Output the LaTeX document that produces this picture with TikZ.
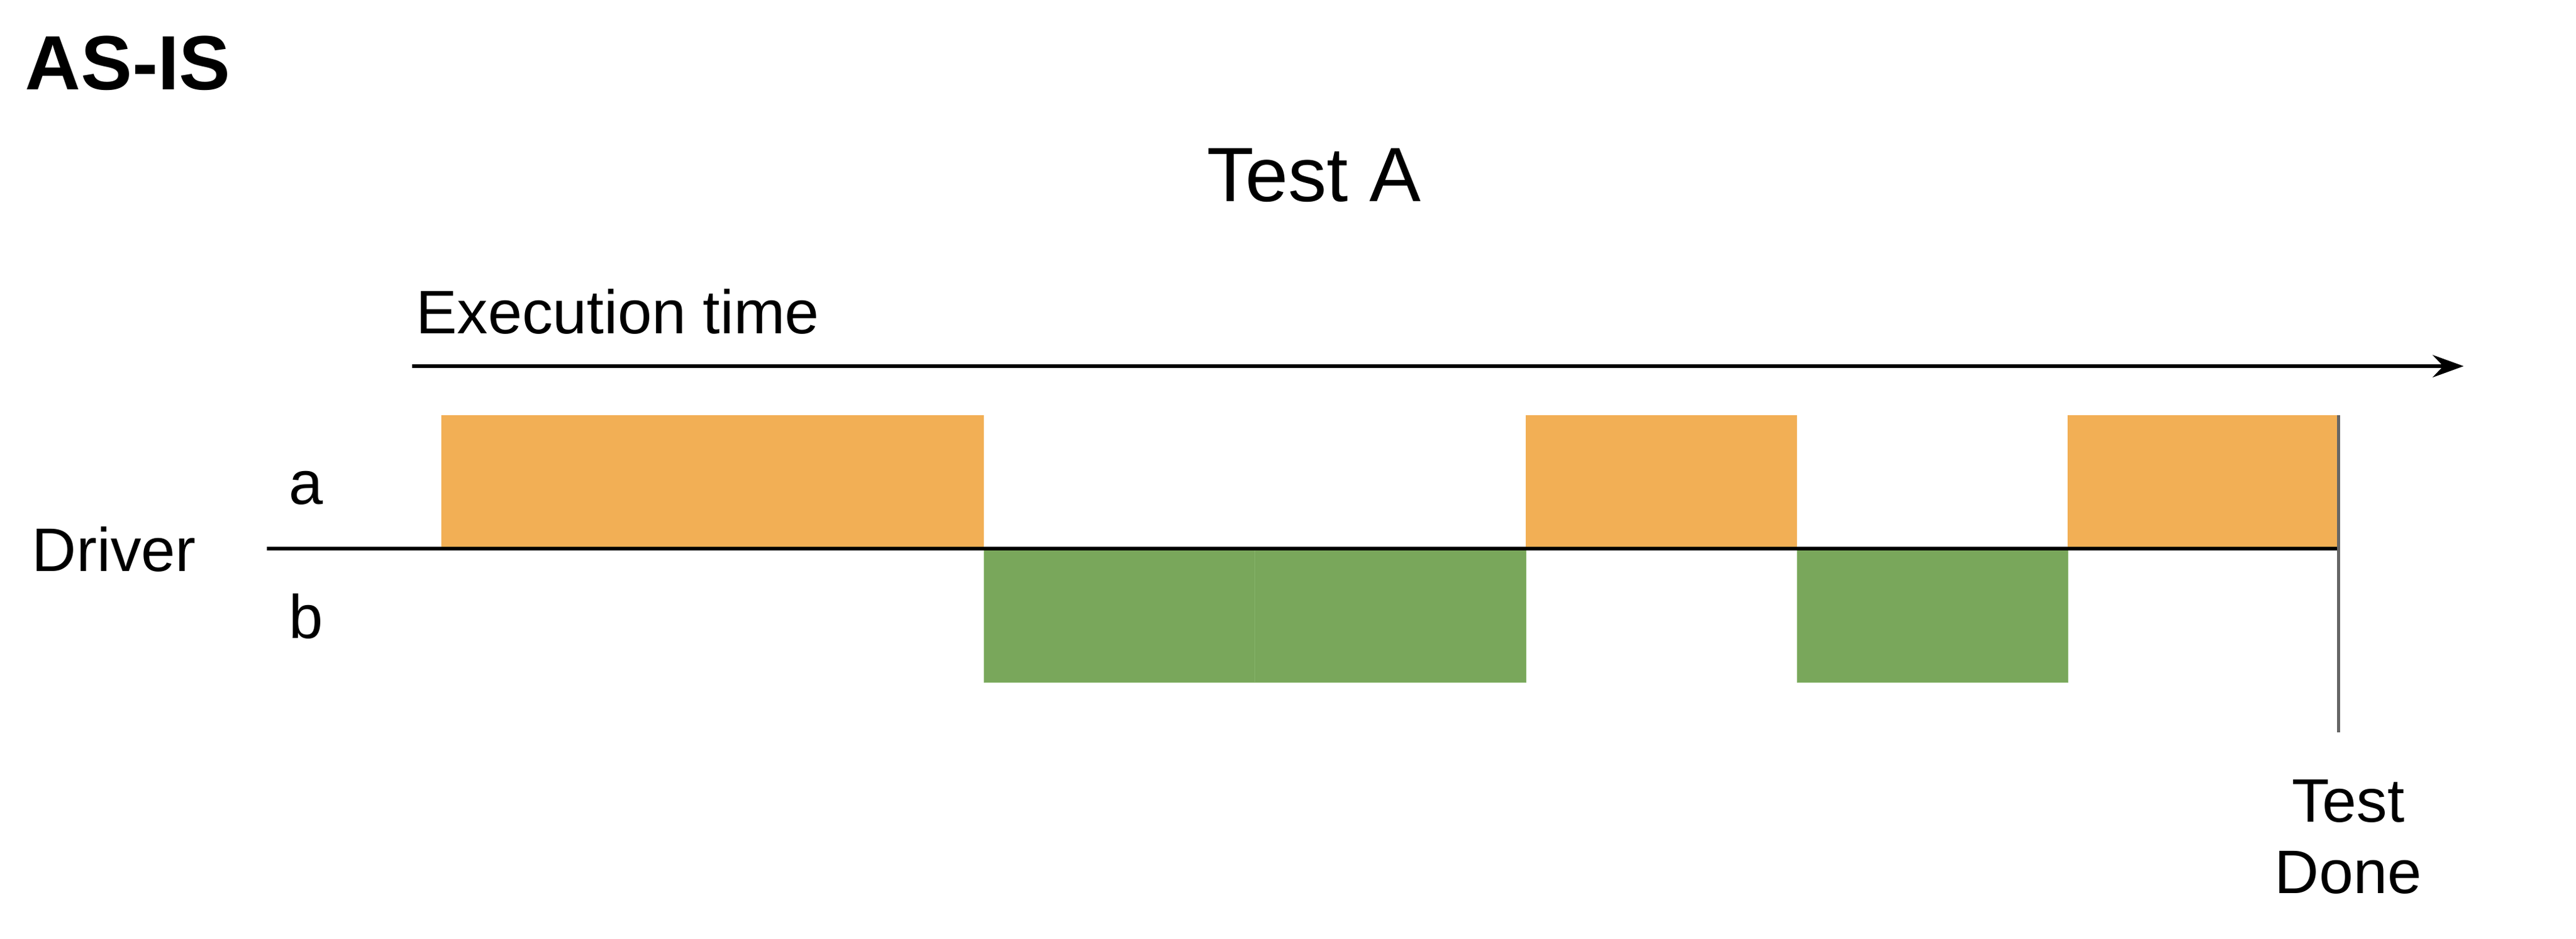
\documentclass[tikz,border=0pt]{standalone}
\usepackage{fontspec}
\setmainfont{Liberation Sans}
\usetikzlibrary{arrows.meta}

\definecolor{runa}{HTML}{F2AF55}
\definecolor{runb}{HTML}{79A75B}
\definecolor{runbseam}{HTML}{86B46A}
\definecolor{donegrey}{HTML}{666666}

\tikzset{
  lbl/.style={font=\fontsize{24.75}{28.75}\selectfont, inner sep=0pt},
  ttl/.style={font=\fontsize{31}{36}\selectfont, inner sep=0pt},
  slota/.style={fill=runa},
  slotb/.style={fill=runb, draw=runbseam, line width=0.25pt},
}

\begin{document}
\begin{tikzpicture}[x=2.5pt, y=-2.5pt]
\useasboundingbox (0,0) rectangle (415,151.2);

\node[ttl, font=\fontsize{31}{36}\selectfont\bfseries, anchor=base west] (asis) at (4.0,14.4) {AS-IS};
\node[ttl, anchor=base] (testa) at (211.7,32.4) {Test A};

\node[lbl, anchor=base west] (exec) at (67.0,53.7) {Execution time};
\coordinate (t0) at (66.4,59.0);
\coordinate (t1) at (396.9,59.0);
\draw[line width=1.33pt, -{Stealth[length=12.5pt, width=9pt, inset=4.25pt]}] (t0) -- (t1);

\fill[slota] (71.1,66.9) rectangle (158.5,88.4);
\fill[slota] (245.8,66.9) rectangle (289.5,88.4);
\fill[slota] (333.1,66.9) rectangle (376.7,88.4);

\filldraw[slotb] (158.5,88.4) rectangle (202.1,109.9);
\filldraw[slotb] (202.1,88.4) rectangle (245.8,109.9);
\filldraw[slotb] (289.5,88.4) rectangle (333.1,109.9);

\node[lbl, anchor=base west] (driver) at (5.1,92.0) {Driver};
\node[lbl, anchor=base west] (la) at (46.5,81.2) {a};
\node[lbl, anchor=base west] (lb) at (46.5,102.8) {b};

\coordinate (d0) at (43.0,88.4);
\coordinate (d1) at (376.5,88.4);
\draw[line width=1.4pt] (d0) -- (d1);

\coordinate (e0) at (376.7,66.9);
\coordinate (e1) at (376.7,118.0);
\draw[donegrey, line width=1.25pt] (e0) -- (e1);

\node[lbl, align=center, anchor=base] (done) at (378.3,143.9) {Test\\Done};

\end{tikzpicture}
\end{document}
